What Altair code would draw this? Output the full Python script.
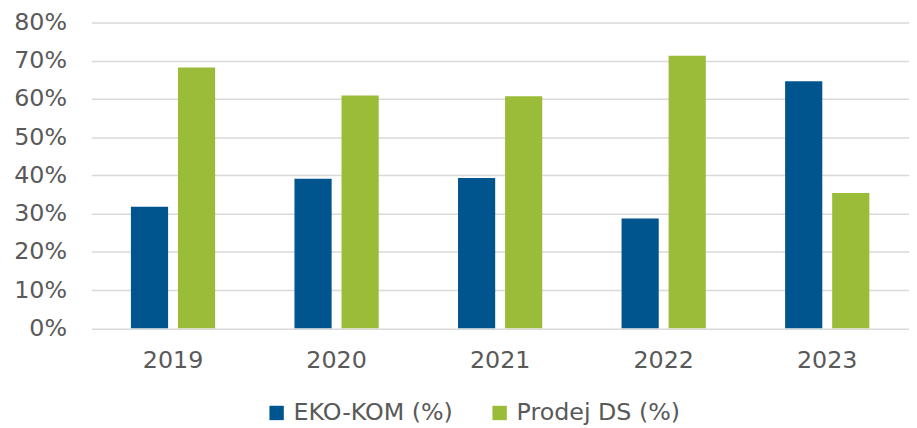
import altair as alt
import pandas as pd

years = ["2019", "2020", "2021", "2022", "2023"]
eko_kom = [0.318, 0.391, 0.393, 0.287, 0.646]
prodej_ds = [0.682, 0.609, 0.607, 0.713, 0.354]
series = ["EKO-KOM (%)", "Prodej DS (%)"]
colors = ["#00558F", "#9BBC38"]
y_ticks = [0, 0.1, 0.2, 0.3, 0.4, 0.5, 0.6, 0.7, 0.8]

rows = []
for i, y in enumerate(years):
    rows.append({"year": y, "series": series[0], "value": eko_kom[i]})
    rows.append({"year": y, "series": series[1], "value": prodej_ds[i]})
df = pd.DataFrame(rows)

FONT = "DejaVu Sans"
GRAY = "#595959"

chart = alt.Chart(df).mark_bar().encode(
    x=alt.X("year:N", sort=years, title=None,
            scale=alt.Scale(paddingInner=0.485, paddingOuter=0.2425),
            axis=alt.Axis(labelAngle=0, domain=False, ticks=False, labelPadding=21,
                          labelFontSize=24, labelFont=FONT, labelColor=GRAY)),
    xOffset=alt.XOffset("series:N", sort=series,
                        scale=alt.Scale(paddingInner=0.21, paddingOuter=0)),
    y=alt.Y("value:Q", title=None,
            scale=alt.Scale(domain=[0, 0.8], nice=False),
            axis=alt.Axis(values=y_ticks, format=".0%", domain=False, ticks=False,
                          labelPadding=25, labelFontSize=24, labelFont=FONT,
                          labelColor=GRAY, gridColor="#D9D9D9", gridWidth=1.5)),
    color=alt.Color("series:N", sort=series,
                    scale=alt.Scale(domain=series, range=colors),
                    legend=alt.Legend(title=None, orient="none", direction="horizontal",
                                      legendX=175, legendY=382, symbolType="square",
                                      symbolSize=210, symbolStrokeWidth=0,
                                      labelFontSize=24, labelFont=FONT, labelColor=GRAY,
                                      labelLimit=400,
                                      labelOffset=5, columnPadding=35, padding=0)),
).properties(
    width=825, height=308.6,
    autosize=alt.AutoSizeParams(type="none"),
    padding={"left": 84, "top": 12.7, "right": 0, "bottom": 98},
).configure_view(stroke=None)

chart.save("out.html", embed_options={"renderer": "svg", "actions": False})
